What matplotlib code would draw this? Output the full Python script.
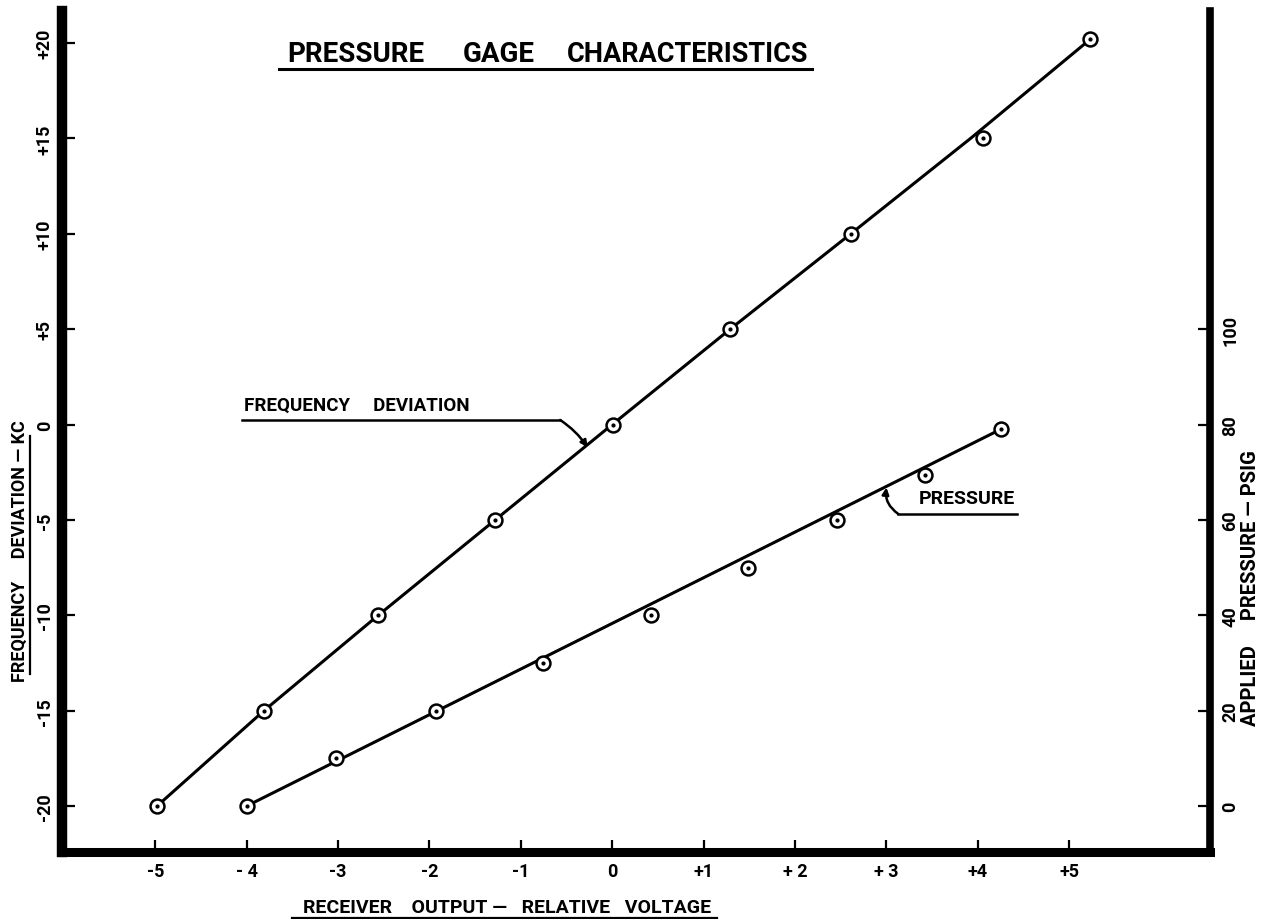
import matplotlib

matplotlib.use("Agg")
import matplotlib.pyplot as plt

plt.rcParams["font.family"] = ["Roboto", "DejaVu Sans"]
plt.rcParams["font.weight"] = "bold"

# receiver output (relative volts) vs frequency deviation (kc)
FREQ_X = [-4.98, -3.81, -2.56, -1.28, 0.01, 1.29, 2.61, 4.06, 5.23]
FREQ_Y = [-20, -15, -10, -5, 0, 5, 10, 15, 20.2]
# hand drawn curve through the frequency points
FREQ_LINE_X = [-4.98, -3.81, -2.56, -1.28, 0.0, 1.29, 2.61, 3.92, 5.23]
FREQ_LINE_Y = [-20, -15, -10, -5, 0, 5, 10, 15, 20.2]

# receiver output vs applied pressure (psig)
PRES_X = [-4.0, -3.02, -1.93, -0.76, 0.42, 1.49, 2.46, 3.42, 4.25]
PRES_Y = [0, 10, 20, 30, 40, 50, 60, 69.5, 79]
PRES_LINE_X = [-4.0, 4.25]
PRES_LINE_Y = [0, 79]

X_TICKS = [-5, -4, -3, -2, -1, 0, 1, 2, 3, 4, 5]
X_TICK_LABELS = ["-5", "- 4", "-3", "-2", "-1", "0", "+1", "+ 2", "+ 3", "+4", "+5"]
KC_TICKS = [20, 15, 10, 5, 0, -5, -10, -15, -20]
KC_TICK_LABELS = ["+20", "+15", "+10", "+5", "0", "-5", "-10", "-15", "-20"]
PSI_TICKS = [0, 20, 40, 60, 80, 100]
PSI_TICK_LABELS = ["0", "20", "40", "60", "80", "100"]

XLIM = (-6.02, 6.54)
YLIM = (-22.41, 21.68)


def kc_to_psi(v):
    return (v + 20) * 4


fig = plt.figure(figsize=(12.68, 9.20), dpi=100)
ax = fig.add_axes([62 / 1268, 67 / 920, (1210 - 62) / 1268, (853 - 12) / 920])
ax.set_xlim(*XLIM)
ax.set_ylim(*YLIM)

ax2 = ax.twinx()
ax2.set_ylim(kc_to_psi(YLIM[0]), kc_to_psi(YLIM[1]))

for a in (ax, ax2):
    a.spines["top"].set_visible(False)
    a.patch.set_visible(False)
ax.spines["right"].set_visible(False)
ax2.spines["left"].set_visible(False)
ax2.spines["bottom"].set_visible(False)
ax.spines["left"].set_linewidth(7.5)
ax.spines["bottom"].set_linewidth(6.5)
ax2.spines["right"].set_linewidth(5.5)
ax.spines["left"].set_capstyle("projecting")
ax.spines["bottom"].set_capstyle("projecting")

ax.set_xticks(X_TICKS)
ax.set_xticklabels(X_TICK_LABELS)
ax.set_yticks(KC_TICKS)
ax.set_yticklabels(KC_TICK_LABELS, rotation=90, va="center")
ax2.set_yticks(PSI_TICKS)
ax2.set_yticklabels(PSI_TICK_LABELS, rotation=90, va="center")
ax.tick_params(axis="x", direction="in", length=9, width=1.6, labelsize=13, pad=7)
ax.tick_params(axis="y", direction="in", length=9, width=1.6, labelsize=13, pad=6)
ax2.tick_params(axis="y", direction="in", length=9, width=1.6, labelsize=13, pad=8)

# data
ax.plot(FREQ_LINE_X, FREQ_LINE_Y, color="black", lw=2.2, zorder=2)
ax.plot(FREQ_X, FREQ_Y, ls="none", marker="o", ms=10, mfc="white", mec="black", mew=1.8, zorder=3)
ax.plot(FREQ_X, FREQ_Y, ls="none", marker="o", ms=2, color="black", zorder=4)
ax2.plot(PRES_LINE_X, PRES_LINE_Y, color="black", lw=2.2, zorder=2)
ax2.plot(PRES_X, PRES_Y, ls="none", marker="o", ms=10, mfc="white", mec="black", mew=1.8, zorder=3)
ax2.plot(PRES_X, PRES_Y, ls="none", marker="o", ms=2, color="black", zorder=4)

# title, word by word to keep the wide drafting spacing
ax.text(-2.80, 19.45, "PRESSURE", ha="center", va="center", fontsize=20)
ax.text(-1.24, 19.45, "GAGE", ha="center", va="center", fontsize=20)
ax.text(0.83, 19.45, "CHARACTERISTICS", ha="center", va="center", fontsize=19.5)
ax.plot([-3.65, 2.19], [18.62, 18.62], color="black", lw=2.2, clip_on=False)

# curve callouts
ax.text(-4.03, 0.55, "FREQUENCY     DEVIATION", ha="left", va="bottom", fontsize=13.5)
ax.plot([-4.05, -0.57], [0.24, 0.24], color="black", lw=1.8)
ax.annotate("", xy=(-0.27, -1.2), xytext=(-0.57, 0.24),
            arrowprops=dict(arrowstyle="-|>", color="black", lw=1.8, mutation_scale=10,
                            shrinkA=0, shrinkB=0, connectionstyle="arc3,rad=-0.1"))
ax.text(3.35, -4.3, "PRESSURE", ha="left", va="bottom", fontsize=14)
ax.plot([3.13, 4.43], [-4.69, -4.69], color="black", lw=1.8)
ax.annotate("", xy=(3.0, -3.3), xytext=(3.13, -4.69),
            arrowprops=dict(arrowstyle="-|>", color="black", lw=1.8, mutation_scale=10,
                            shrinkA=0, shrinkB=0, connectionstyle="arc3,rad=-0.3"))

# axis labels (underlined by hand, like the original drafting)
ax.text(-6.48, -6.6, "FREQUENCY     DEVIATION — KC", rotation=90, ha="center", va="center",
        fontsize=13, clip_on=False)
ax.plot([-6.37, -6.37], [-13.1, -0.6], color="black", lw=1.6, clip_on=False)
ax.text(6.98, -8.5, "APPLIED     PRESSURE — PSIG", rotation=90, ha="center", va="center",
        fontsize=14.5, clip_on=False)
ax.text(-1.15, -25.3, "RECEIVER    OUTPUT —   RELATIVE   VOLTAGE", ha="center", va="center",
        fontsize=14, clip_on=False)
ax.plot([-3.5, 1.15], [-25.85, -25.85], color="black", lw=1.6, clip_on=False)

fig.savefig("out.png", dpi=100)
